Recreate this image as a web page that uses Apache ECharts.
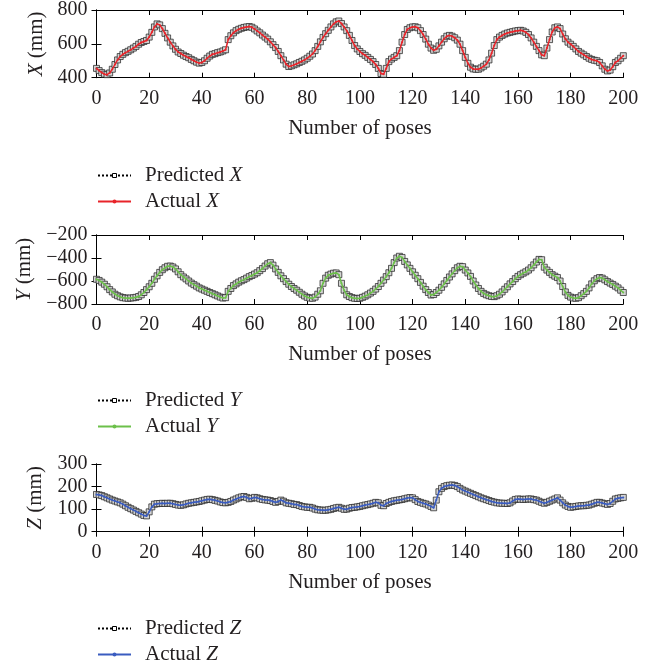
<!DOCTYPE html>
<html>
<head>
<meta charset="utf-8">
<script src="https://cdn.jsdelivr.net/npm/echarts@6/dist/echarts.min.js"></script>
<style>
html,body{margin:0;padding:0;background:#fff;}
#main{width:664px;height:669px;}
</style>
</head>
<body>
<div id="main"></div>
<script>
/* values, pose 0..200 */
const xPos = [
  455, 442, 430, 421, 418, 428, 450, 478, 505, 525,
  538, 548, 556, 565, 575, 585, 598, 608, 614, 620,
  640, 668, 700, 718, 712, 690, 662, 635, 610, 588,
  568, 552, 543, 533, 525, 518, 508, 500, 492, 486,
  490, 500, 515, 528, 538, 542, 548, 552, 558, 565,
  625, 648, 665, 678, 686, 692, 697, 700, 702, 698,
  688, 676, 665, 652, 640, 628, 612, 595, 578, 555,
  530, 505, 480, 466, 470, 476, 482, 490, 497, 505,
  515, 527, 540, 560, 585, 612, 638, 660, 680, 700,
  718, 730, 735, 720, 700, 678, 650, 620, 590, 570,
  555, 542, 532, 520, 508, 495, 478, 455, 425, 420,
  455, 495, 510, 520, 530, 560, 610, 655, 685, 695,
  700, 701, 695, 678, 655, 628, 598, 575, 562, 568,
  588, 610, 630, 645, 650, 645, 636, 622, 598, 560,
  520, 485, 462, 452, 450, 450, 458, 468, 480, 505,
  545, 590, 625, 640, 650, 658, 664, 668, 672, 676,
  678, 680, 676, 668, 655, 635, 610, 585, 560, 535,
  530, 575, 625, 670, 695, 700, 690, 658, 630, 610,
  598, 585, 570, 555, 545, 535, 525, 515, 508, 503,
  500, 490, 470, 450, 440, 445, 465, 490, 500, 515,
  530
];
const yPos = [
  -585, -595, -610, -628, -650, -675, -695, -715, -728, -738,
  -745, -748, -750, -748, -746, -742, -735, -720, -700, -675,
  -650, -620, -585, -555, -525, -502, -485, -472, -470, -478,
  -495, -520, -545, -565, -582, -600, -618, -632, -645, -660,
  -670, -680, -690, -700, -710, -720, -730, -740, -748, -745,
  -690, -665, -640, -625, -610, -598, -588, -575, -562, -552,
  -540, -528, -510, -492, -470, -450, -440, -462, -495, -525,
  -555, -580, -605, -628, -648, -665, -680, -698, -715, -730,
  -742, -748, -750, -740, -715, -685, -620, -575, -550, -540,
  -532, -530, -545, -620, -680, -720, -735, -745, -750, -752,
  -750, -742, -732, -720, -705, -690, -670, -648, -620, -592,
  -562, -528, -490, -440, -400, -385, -395, -430, -460, -490,
  -520, -550, -580, -612, -645, -675, -700, -722, -718, -700,
  -680, -655, -625, -595, -565, -538, -510, -485, -472, -475,
  -505, -530, -560, -600, -635, -665, -690, -708, -720, -728,
  -734, -736, -728, -715, -695, -672, -650, -625, -605, -580,
  -560, -545, -532, -520, -505, -485, -460, -435, -412, -415,
  -480, -505, -525, -545, -558, -570, -600, -648, -695, -725,
  -740, -748, -750, -745, -728, -710, -690, -660, -625, -598,
  -580, -570, -575, -590, -605, -618, -630, -645, -660, -680,
  -700
];
const zPos = [
  165, 163, 160, 155, 150, 145, 140, 136, 132, 128,
  122, 115, 108, 102, 96, 90, 84, 78, 72, 70,
  88, 110, 122, 124, 125, 126, 125, 126, 126, 124,
  121, 118, 117, 119, 123, 126, 128, 130, 132, 134,
  137, 140, 143, 144, 142, 139, 136, 132, 129, 128,
  130, 134, 140, 145, 150, 154, 156, 152, 146, 148,
  152, 150, 146, 143, 141, 140, 138, 134, 130, 134,
  140, 135, 128, 126, 124, 121, 120, 116, 112, 110,
  108, 108, 105, 100, 97, 96, 95, 95, 97, 99,
  103, 106, 108, 104, 99, 100, 104, 107, 108, 110,
  112, 115, 118, 120, 123, 126, 130, 128, 117, 115,
  125, 130, 134, 137, 139, 141, 143, 146, 149, 151,
  150, 142, 134, 130, 126, 123, 118, 112, 106, 140,
  177, 192, 200, 204, 206, 207, 205, 200, 192, 185,
  180, 175, 170, 165, 160, 155, 150, 146, 142, 138,
  134, 131, 128, 127, 126, 126, 125, 128, 136, 143,
  145, 144, 143, 144, 145, 145, 142, 140, 135, 130,
  126, 130, 135, 140, 145, 150, 140, 128, 118, 112,
  108, 110, 112, 114, 115, 115, 117, 118, 122, 126,
  130, 130, 127, 124, 121, 125, 135, 145, 148, 150,
  152
];

const poseTicks = [0, 200, 20];      // min, max, interval
const xTicks = [400, 800, 200];
const yTicks = [-800, -200, 200];
const zTicks = [0, 300, 100];

const FONT = "Liberation Serif";
const INK = "#231f20";

const panels = [
  {letter: "X", data: xPos, ticks: xTicks, color: "#e8242a", top: 8.5, h: 69.2, legendTop: 165, nameGap: 50},
  {letter: "Y", data: yPos, ticks: yTicks, color: "#6cc04a", top: 235, h: 69, legendTop: 390, nameGap: 61},
  {letter: "Z", data: zPos, ticks: zTicks, color: "#3a5cc0", top: 464, h: 67.7, legendTop: 618, nameGap: 51}
];

const grid = [], xAxis = [], yAxis = [], series = [], legend = [];
const it = {fontStyle: "italic", fontFamily: FONT, fontSize: 21, color: INK};

panels.forEach((p, k) => {
  grid.push({left: 96.5, width: 526.8, top: p.top, height: p.h});

  const axLine = {show: true, lineStyle: {color: "#000", width: 1}};
  const tick = {show: true, inside: true, length: 5, lineStyle: {color: "#000"}};

  xAxis.push({
    gridIndex: k, type: "value", position: "bottom",
    min: poseTicks[0], max: poseTicks[1], interval: poseTicks[2],
    axisLine: axLine, axisTick: tick, splitLine: {show: false},
    axisLabel: {margin: 11, fontFamily: FONT, fontSize: 20, color: INK},
    name: "Number of poses", nameLocation: "middle", nameGap: 40,
    nameTextStyle: {fontFamily: FONT, fontSize: 21, color: INK}
  });
  xAxis.push({
    gridIndex: k, type: "value", position: "top",
    min: poseTicks[0], max: poseTicks[1], interval: poseTicks[2],
    axisLine: axLine, axisTick: tick, axisLabel: {show: false}, splitLine: {show: false}
  });
  yAxis.push({
    gridIndex: k, type: "value", position: "left",
    min: p.ticks[0], max: p.ticks[1], interval: p.ticks[2],
    axisLine: axLine, axisTick: tick, splitLine: {show: false},
    axisLabel: {margin: 9, fontFamily: FONT, fontSize: 20, color: INK,
      formatter: v => String(v).replace("-", "\u2212")},
    name: "{it|" + p.letter + "} (mm)", nameLocation: "middle", nameGap: p.nameGap,
    nameTextStyle: {fontFamily: FONT, fontSize: 21, color: INK, rich: {it: it}}
  });
  yAxis.push({
    gridIndex: k, type: "value", position: "right",
    min: p.ticks[0], max: p.ticks[1], interval: p.ticks[2],
    axisLine: axLine, axisTick: tick, axisLabel: {show: false}, splitLine: {show: false}
  });

  const pts = p.data.map((v, i) => [i, v]);
  const predName = "Predicted " + p.letter;
  const actName = "Actual " + p.letter;

  series.push({
    name: predName, type: "line", xAxisIndex: 2 * k, yAxisIndex: 2 * k,
    data: pts, symbol: "rect", symbolSize: 6, showAllSymbol: true,
    lineStyle: {type: "dotted", color: "#000", width: 1},
    itemStyle: {color: "#d4d4d4", borderColor: "#1a1a1a", borderWidth: 0.7},
    silent: true, z: 2
  });
  series.push({
    name: actName, type: "line", xAxisIndex: 2 * k, yAxisIndex: 2 * k,
    data: pts, symbol: "circle", symbolSize: 2,
    lineStyle: {color: p.color, width: 1.5},
    itemStyle: {color: p.color},
    silent: true, z: 3
  });

  legend.push({
    orient: "vertical", left: 97, top: p.legendTop, height: 80, padding: 0,
    data: [{name: predName, itemStyle: {color: "#fff", borderColor: "#000", borderWidth: 1}}, actName],
    itemWidth: 33, itemHeight: 5, itemGap: 5,
    selectedMode: false,
    formatter: n => n.replace(/ (\w)$/, " {it|$1}"),
    textStyle: {fontFamily: FONT, fontSize: 21, color: INK, lineHeight: 20,
      padding: [0, 0, 0, 9], rich: {it: it}}
  });
});

const chart = echarts.init(document.getElementById("main"));
chart.setOption({
  animation: false,
  backgroundColor: "#fff",
  grid, xAxis, yAxis, series, legend
});
</script>
</body>
</html>
